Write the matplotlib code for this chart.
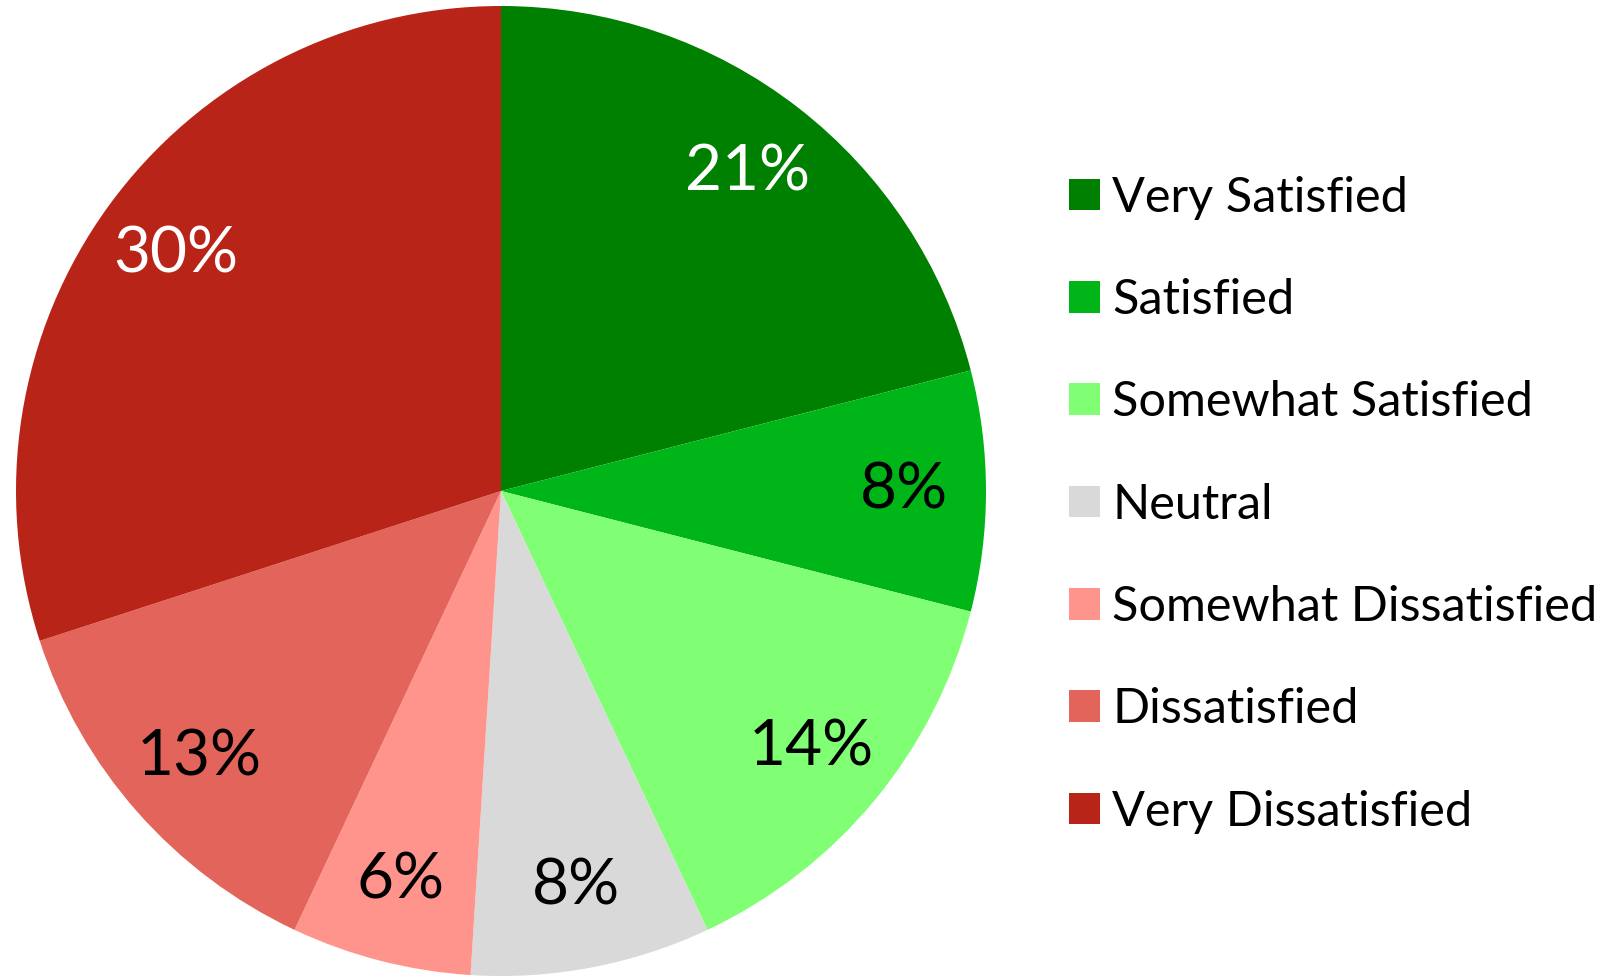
import matplotlib.pyplot as plt
from matplotlib.patches import Patch

labels = ["Very Satisfied", "Satisfied", "Somewhat Satisfied", "Neutral",
          "Somewhat Dissatisfied", "Dissatisfied", "Very Dissatisfied"]
shares = [21, 8, 14, 8, 6, 13, 30]
colors = ["#008000", "#00B517", "#80FF74", "#D9D9D9",
          "#FF948C", "#E3645A", "#B82518"]
text_colors = ["white", "black", "black", "black", "black", "black", "white"]

plt.rcParams['font.family'] = ['Lato', 'DejaVu Sans']

fig = plt.figure(figsize=(16.11, 9.76), dpi=100)
ax = fig.add_axes([16 / 1611, 0, 970 / 1611, 970 / 976])

wedges, texts, pcts = ax.pie(shares, colors=colors, startangle=90, counterclock=False,
                             autopct="%d%%", pctdistance=0.83,
                             wedgeprops=dict(linewidth=0))
for t, c in zip(pcts, text_colors):
    t.set_color(c)
    t.set_fontsize(46)
ax.set_xlim(-1, 1)
ax.set_ylim(-1, 1)
ax.set_aspect("equal")

handles = [Patch(facecolor=c, edgecolor="none") for c in colors]
fig.legend(handles, labels, loc="center left", bbox_to_anchor=(1050 / 1611, 0.483),
           frameon=False, fontsize=35, handlelength=0.63, handleheight=0.63,
           handletextpad=0.25, labelspacing=1.2, borderaxespad=0)

fig.savefig("out.png", dpi=100)
